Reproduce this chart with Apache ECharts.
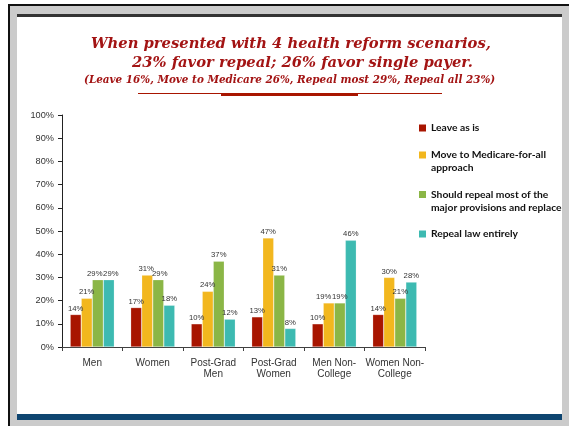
<!DOCTYPE html>
<html>
<head>
<meta charset="utf-8">
<script src="https://cdn.jsdelivr.net/npm/echarts@6/dist/echarts.min.js"></script>
<style>
  html, body { margin: 0; padding: 0; background: #fff; }
  #chart { width: 569px; height: 426px; }
</style>
</head>
<body>
<div id="chart"></div>
<script>
// Survey groups along the x axis
const categories = ['Men', 'Women', 'Post-Grad\nMen', 'Post-Grad\nWomen', 'Men Non-\nCollege', 'Women Non-\nCollege'];

// Share of each group choosing each scenario (%)
const leaveAsIs      = [14, 17, 10, 13, 10, 14];
const medicareForAll = [21, 31, 24, 47, 19, 30];
const repealMost     = [29, 29, 37, 31, 19, 21];
const repealAll      = [29, 18, 12,  8, 46, 28];

const seriesNames = [
  'Leave as is',
  'Move to Medicare-for-all approach',
  'Should repeal most of the major provisions and replace',
  'Repeal law entirely'
];
const legendLines = [
  'Leave as is',
  'Move to Medicare-for-all\napproach',
  'Should repeal most of the\nmajor provisions and replace',
  'Repeal law entirely'
];
const yTicks = [0, 10, 20, 30, 40, 50, 60, 70, 80, 90, 100];

const colors = ['#a81500', '#f2b71e', '#8bb646', '#3dbab1'];
const values = [leaveAsIs, medicareForAll, repealMost, repealAll];

// Sideways nudges (px) for value labels that would collide with a neighbour,
// keyed by "seriesIndex-categoryIndex"
const labelNudge = { '2-0': -3, '3-0': 2, '1-1': -1, '2-1': 1.5, '1-4': -5 };

const chart = echarts.init(document.getElementById('chart'), null, { renderer: 'canvas' });

const titleFont = '"DejaVu Serif", "Liberation Serif", serif';
const titleColor = '#a31414';

// Swatch that sits at the top of a two-line legend entry: the trailing
// moveTo stretches the icon's box so the square stays on the first line.
const tallSwatch = 'path://M0,0L7,0L7,7L0,7Z M0,20';

// One legend block per scenario so each entry can be placed on its own
const legendTops = [121.5, 148.5, 188, 227.5];
const legends = seriesNames.map((name, i) => {
  const twoLine = legendLines[i].indexOf('\n') >= 0;
  return {
    data: [name],
    left: 419,
    top: legendTops[i],
    padding: 0,
    orient: 'vertical',
    itemWidth: 7,
    itemHeight: twoLine ? 20 : 7,
    itemGap: 0,
    icon: twoLine ? tallSwatch : 'rect',
    itemStyle: { borderWidth: 0 },
    selectedMode: false,
    formatter: () => legendLines[i],
    textStyle: {
      fontFamily: 'Lato, "Liberation Sans", sans-serif',
      fontWeight: 'bold',
      fontSize: 10.3,
      lineHeight: 13,
      color: '#111'
    }
  };
});

const option = {
  backgroundColor: '#ffffff',
  animation: false,
  color: colors,
  legend: legends,
  grid: { left: 62, right: 144, top: 115, bottom: 79 },
  xAxis: {
    type: 'category',
    data: categories,
    axisLine: { show: true, lineStyle: { color: '#404040', width: 1 } },
    axisTick: { show: true, alignWithLabel: false, length: 4, lineStyle: { color: '#404040' } },
    axisLabel: {
      interval: 0,
      margin: 11,
      fontFamily: 'Arial, "Liberation Sans", sans-serif',
      fontSize: 10,
      lineHeight: 11,
      color: '#333'
    }
  },
  yAxis: {
    type: 'value',
    min: yTicks[0],
    max: yTicks[yTicks.length - 1],
    interval: yTicks[1] - yTicks[0],
    splitLine: { show: false },
    axisLine: { show: true, lineStyle: { color: '#222', width: 1 } },
    axisTick: { show: true, length: 4, lineStyle: { color: '#222' } },
    axisLabel: {
      formatter: '{value}%',
      margin: 8,
      fontFamily: 'Arial, "Liberation Sans", sans-serif',
      fontSize: 9.2,
      color: '#333'
    }
  },
  series: seriesNames.map((name, i) => ({
    name: name,
    type: 'bar',
    data: values[i].map((v, j) => {
      const dx = labelNudge[i + '-' + j];
      return dx ? { value: v, label: { offset: [dx, 0] } } : v;
    }),
    barGap: '0%',
    barCategoryGap: '27%',
    itemStyle: { color: colors[i], borderColor: 'rgba(255,255,255,0.35)', borderWidth: 0.6 },
    label: {
      show: true,
      position: 'top',
      distance: 2,
      formatter: '{c}%',
      fontFamily: 'Arial, "Liberation Sans", sans-serif',
      fontSize: 7.7,
      color: '#333'
    }
  })),
  graphic: [
    // slide frame: outer rules, grey surround, header and footer bars
    { type: 'rect', z: -10, silent: true, shape: { x: 8, y: 4, width: 561, height: 422 }, style: { fill: '#111' } },
    { type: 'rect', z: -9, silent: true, shape: { x: 10, y: 6, width: 559, height: 420 }, style: { fill: '#cbcbcb' } },
    { type: 'rect', z: -8, silent: true, shape: { x: 17, y: 17, width: 545, height: 397 }, style: { fill: '#ffffff' } },
    { type: 'rect', z: -7, silent: true, shape: { x: 17, y: 14, width: 545, height: 3 }, style: { fill: '#333333' } },
    { type: 'rect', z: -7, silent: true, shape: { x: 17, y: 414, width: 545, height: 6 }, style: { fill: '#0e4570' } },
    // headline
    { type: 'text', left: 91, top: 37, silent: true,
      style: { text: 'When presented with 4 health reform scenarios,', fill: titleColor,
               font: 'italic bold 14.75px ' + titleFont } },
    { type: 'text', left: 132, top: 56, silent: true,
      style: { text: '23% favor repeal; 26% favor single payer.', fill: titleColor,
               font: 'italic bold 14.75px ' + titleFont } },
    { type: 'text', left: 84, top: 75, silent: true,
      style: { text: '(Leave 16%, Move to Medicare 26%, Repeal most 29%, Repeal all 23%)', fill: titleColor,
               font: 'italic bold 10.4px ' + titleFont } },
    // rule under the headline
    { type: 'rect', silent: true, shape: { x: 138, y: 93, width: 304, height: 1 }, style: { fill: '#a81500' } },
    { type: 'rect', silent: true, shape: { x: 221, y: 93, width: 137, height: 3 }, style: { fill: '#a81500' } }
  ]
};

chart.setOption(option);
</script>
</body>
</html>
